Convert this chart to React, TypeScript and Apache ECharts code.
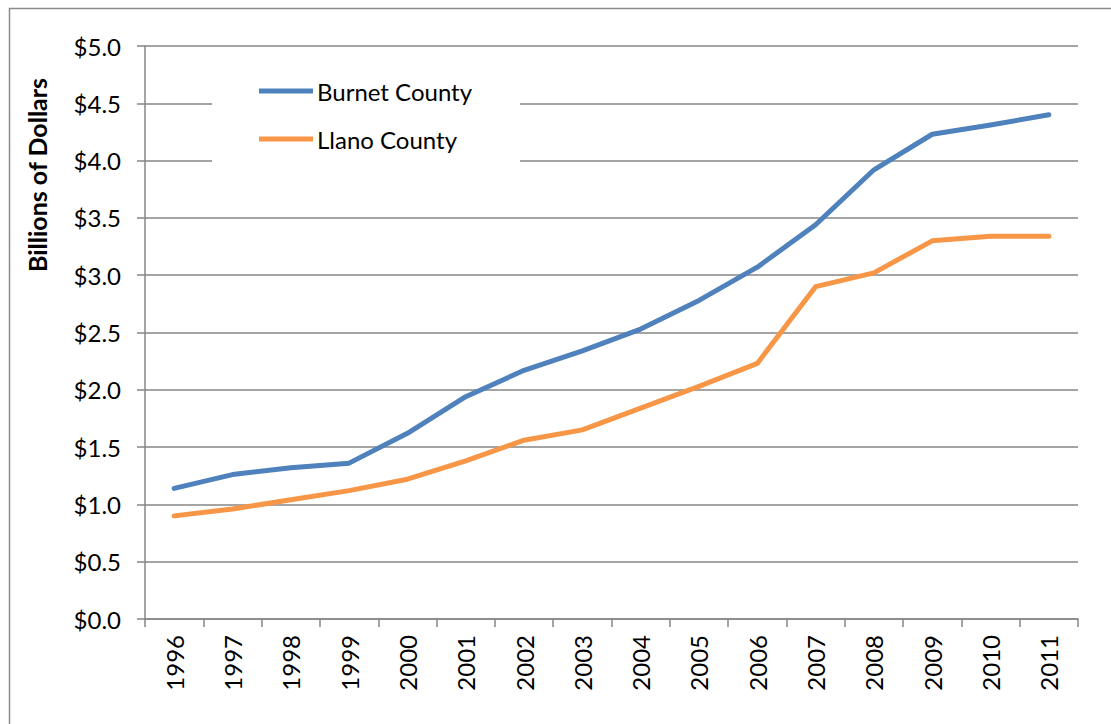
import React, { useEffect, useRef } from "react";
import * as echarts from "echarts";

const years = ["1996","1997","1998","1999","2000","2001","2002","2003","2004","2005","2006","2007","2008","2009","2010","2011"];
const burnet = [1.14, 1.26, 1.32, 1.36, 1.62, 1.94, 2.17, 2.34, 2.53, 2.78, 3.07, 3.44, 3.92, 4.23, 4.31, 4.40];
const llano = [0.90, 0.96, 1.04, 1.12, 1.22, 1.38, 1.56, 1.65, 1.84, 2.03, 2.23, 2.90, 3.02, 3.30, 3.34, 3.34];
const seriesNames = ["Burnet County", "Llano County"];
const yTitle = "Billions of Dollars";

const FONT = "Lato";

export default function App() {
  const ref = useRef<HTMLDivElement>(null);
  useEffect(() => {
    const chart = echarts.init(ref.current!, null, { renderer: "svg" });
    chart.setOption({
      animation: false,
      backgroundColor: "#ffffff",
      grid: { left: 145, right: 33, top: 46, bottom: 105 },
      graphic: [
        {
          type: "rect",
          shape: { x: 9.5, y: 8.5, width: 1200, height: 800 },
          style: { fill: "none", stroke: "#8a8a8a", lineWidth: 1.5 },
          silent: true,
        },
        {
          type: "text",
          x: 37,
          y: 175,
          rotation: Math.PI / 2,
          style: {
            text: yTitle,
            font: `bold 25px ${FONT}`,
            fill: "#000",
            align: "center",
            verticalAlign: "middle",
          },
        },
      ],
      legend: {
        orient: "vertical",
        left: 212,
        top: 68,
        icon: "rect",
        itemWidth: 54,
        itemHeight: 5,
        itemGap: 24,
        backgroundColor: "#ffffff",
        padding: [11, 48, 20, 47],
        textStyle: { fontFamily: FONT, fontSize: 24, color: "#000", lineHeight: 24, padding: [0, 0, 0, -1] },
        data: seriesNames,
      },
      xAxis: {
        type: "category",
        data: years,
        boundaryGap: true,
        axisLine: { lineStyle: { color: "#868686", width: 1.5 } },
        axisTick: { show: true, length: 8, lineStyle: { color: "#868686", width: 1.5 } },
        axisLabel: { rotate: 90, margin: 16, fontFamily: FONT, fontSize: 24, color: "#000" },
        splitLine: { show: false },
      },
      yAxis: {
        type: "value",
        min: 0,
        max: 5,
        interval: 0.5,
        axisLine: { show: true, lineStyle: { color: "#868686", width: 1.5 } },
        axisTick: { show: true, length: 8, lineStyle: { color: "#868686", width: 1.5 } },
        axisLabel: {
          margin: 24,
          fontFamily: FONT,
          fontSize: 24,
          color: "#000",
          formatter: (v: number) => "$" + v.toFixed(1),
        },
        splitLine: { show: true, lineStyle: { color: "#868686", width: 1.5 } },
      },
      series: [
        {
          name: seriesNames[0],
          type: "line",
          data: burnet,
          showSymbol: false,
          symbol: "none",
          lineStyle: { color: "#4F81BD", width: 5, cap: "round", join: "round" },
          itemStyle: { color: "#4F81BD" },
        },
        {
          name: seriesNames[1],
          type: "line",
          data: llano,
          showSymbol: false,
          symbol: "none",
          lineStyle: { color: "#F79646", width: 5, cap: "round", join: "round" },
          itemStyle: { color: "#F79646" },
        },
      ],
    });
    return () => chart.dispose();
  }, []);
  return (
    <div
      ref={ref}
      style={{ position: "fixed", left: 0, top: 0, width: 1111, height: 724 }}
    />
  );
}
